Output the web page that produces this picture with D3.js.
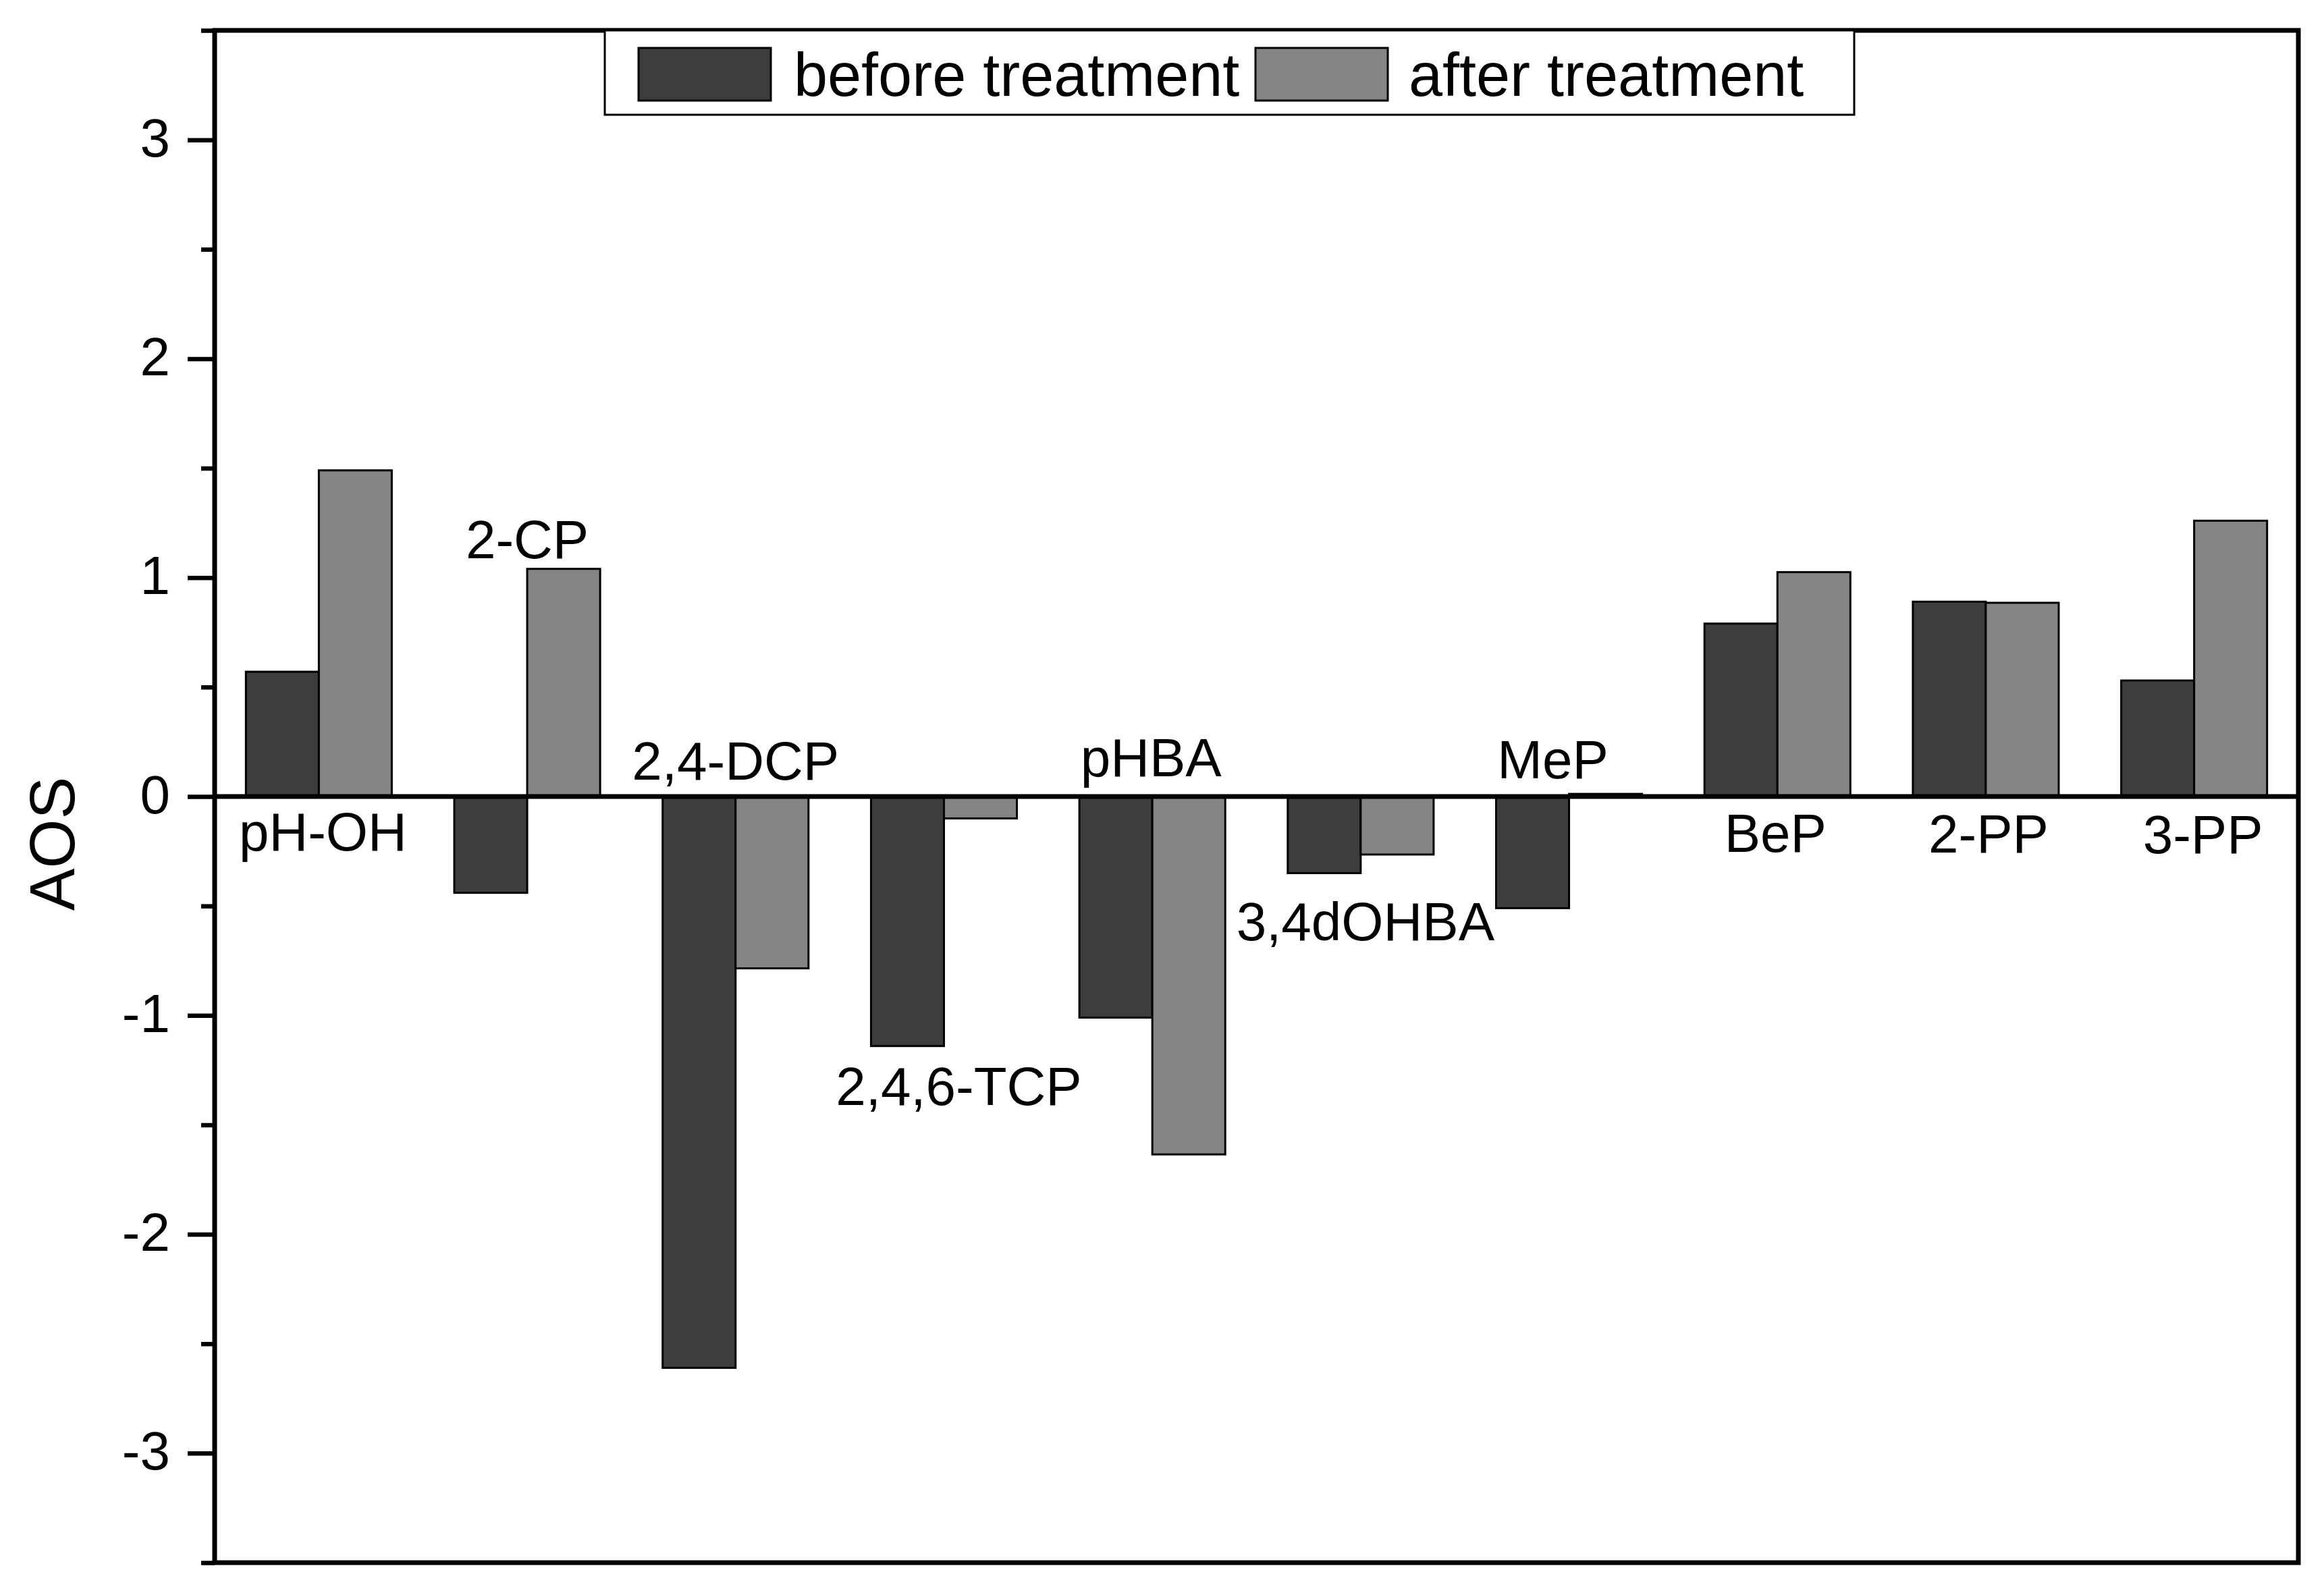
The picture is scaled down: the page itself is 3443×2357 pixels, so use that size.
<!DOCTYPE html>
<html>
<head>
<meta charset="utf-8">
<script src="https://cdn.jsdelivr.net/npm/d3@7"></script>
<style>
  html, body { margin: 0; padding: 0; background: #ffffff; }
  svg { display: block; }
  text { font-family: Arial, "Liberation Sans", Helvetica, sans-serif; fill: #000; }
</style>
</head>
<body>
<script>
// ---------- data ----------
const categories = ["pH-OH", "2-CP", "2,4-DCP", "2,4,6-TCP", "pHBA", "3,4dOHBA", "MeP", "BeP", "2-PP", "3-PP"];
const seriesNames = ["before treatment", "after treatment"];
const beforeValues = [0.57, -0.44, -2.61, -1.14, -1.01, -0.35, -0.51, 0.79, 0.89, 0.53];
const afterValues  = [1.49, 1.04, -0.785, -0.10, -1.635, -0.265, 0.012, 1.025, 0.885, 1.26];
const majorTicks = [-3, -2, -1, 0, 1, 2, 3];
const minorTicks = [-3.5, -2.5, -1.5, -0.5, 0.5, 1.5, 2.5, 3.5];
const yLabel = "AOS";

// ---------- layout / style ----------
const W = 3443, H = 2357;
const plot = { left: 318, right: 3405, top: 45, bottom: 2315 };
const colors = ["#3d3d3d", "#858585"];
// label placement per category (layout only)
const labelLayout = [
  { mode: "belowZero", dx: 6,   dy: 80 },
  { mode: "aboveMax",  dx: 0,   dy: -16 },
  { mode: "aboveZero", dx: 0,   dy: -25 },
  { mode: "belowMin",  dx: 22,  dy: 87 },
  { mode: "aboveZero", dx: -2,  dy: -30 },
  { mode: "belowMin",  dx: 7,   dy: 99 },
  { mode: "aboveZero", dx: -24, dy: -27 },
  { mode: "belowZero", dx: -3,  dy: 82 },
  { mode: "belowZero", dx: 4,   dy: 83 },
  { mode: "belowZero", dx: 13,  dy: 84 }
];

const svg = d3.select("body").append("svg")
  .attr("width", W).attr("height", H)
  .attr("viewBox", `0 0 ${W} ${H}`);

svg.append("rect").attr("width", W).attr("height", H).attr("fill", "#fff");

const x = d3.scaleBand().domain(categories)
  .range([plot.left, plot.right]).paddingInner(0.3).paddingOuter(0.15);
const xs = d3.scaleBand().domain(seriesNames).range([0, x.bandwidth()]).padding(0);
const y = d3.scaleLinear().domain([-3.5, 3.5]).range([plot.bottom, plot.top]);

const rows = categories.map((c, i) => ({ cat: c, vals: [beforeValues[i], afterValues[i]] }));

// ---------- bars ----------
const g = svg.append("g");
rows.forEach(r => {
  r.vals.forEach((v, si) => {
    g.append("rect")
      .attr("x", x(r.cat) + xs(seriesNames[si]))
      .attr("y", y(Math.max(0, v)))
      .attr("width", xs.bandwidth())
      .attr("height", Math.abs(y(v) - y(0)))
      .attr("fill", colors[si])
      .attr("stroke", "#000")
      .attr("stroke-width", 3);
  });
});

// zero line
svg.append("line")
  .attr("x1", plot.left).attr("x2", plot.right)
  .attr("y1", y(0)).attr("y2", y(0))
  .attr("stroke", "#000").attr("stroke-width", 7);

// ---------- category labels ----------
rows.forEach((r, i) => {
  const L = labelLayout[i];
  const cx = x(r.cat) + x.bandwidth() / 2 + L.dx;
  let base;
  if (L.mode === "belowZero") base = y(0);
  else if (L.mode === "aboveZero") base = y(0);
  else if (L.mode === "aboveMax") base = y(d3.max(r.vals));
  else base = y(d3.min(r.vals));
  svg.append("text")
    .attr("x", cx).attr("y", base + L.dy)
    .attr("text-anchor", "middle")
    .attr("font-size", 80)
    .text(r.cat);
});

// ---------- y axis ----------
const axisMajor = d3.axisLeft(y).tickValues(majorTicks).tickSize(40).tickPadding(26)
  .tickFormat(d => String(d));
const gMaj = svg.append("g").attr("transform", `translate(${plot.left},0)`).call(axisMajor);
gMaj.select(".domain").remove();
gMaj.selectAll(".tick line").attr("stroke", "#000").attr("stroke-width", 6.5);
gMaj.selectAll(".tick text").attr("font-size", 80).attr("fill", "#000")
  .attr("font-family", 'Arial, "Liberation Sans", sans-serif').attr("dy", "0.30em");

const axisMinor = d3.axisLeft(y).tickValues(minorTicks).tickSize(20).tickFormat("");
const gMin = svg.append("g").attr("transform", `translate(${plot.left},0)`).call(axisMinor);
gMin.select(".domain").remove();
gMin.selectAll(".tick line").attr("stroke", "#000").attr("stroke-width", 6.5);

// frame
svg.append("rect")
  .attr("x", plot.left).attr("y", plot.top)
  .attr("width", plot.right - plot.left).attr("height", plot.bottom - plot.top)
  .attr("fill", "none").attr("stroke", "#000").attr("stroke-width", 7);

// y label
svg.append("text")
  .attr("transform", `translate(110, ${(plot.top + plot.bottom) / 2 + 70}) rotate(-90)`)
  .attr("text-anchor", "middle")
  .attr("font-size", 94)
  .text(yLabel);

// ---------- legend ----------
const leg = svg.append("g");
leg.append("rect")
  .attr("x", 896).attr("y", plot.top).attr("width", 1851).attr("height", 125)
  .attr("fill", "#fff").attr("stroke", "#000").attr("stroke-width", 3);
const legItems = [
  { sx: 946, tx: 1176 },
  { sx: 1860, tx: 2087 }
];
seriesNames.forEach((name, i) => {
  leg.append("rect")
    .attr("x", legItems[i].sx).attr("y", 71).attr("width", 196).attr("height", 78)
    .attr("fill", colors[i]).attr("stroke", "#000").attr("stroke-width", 3);
  leg.append("text")
    .attr("x", legItems[i].tx).attr("y", 142)
    .attr("font-size", 90)
    .text(name);
});
</script>
</body>
</html>
